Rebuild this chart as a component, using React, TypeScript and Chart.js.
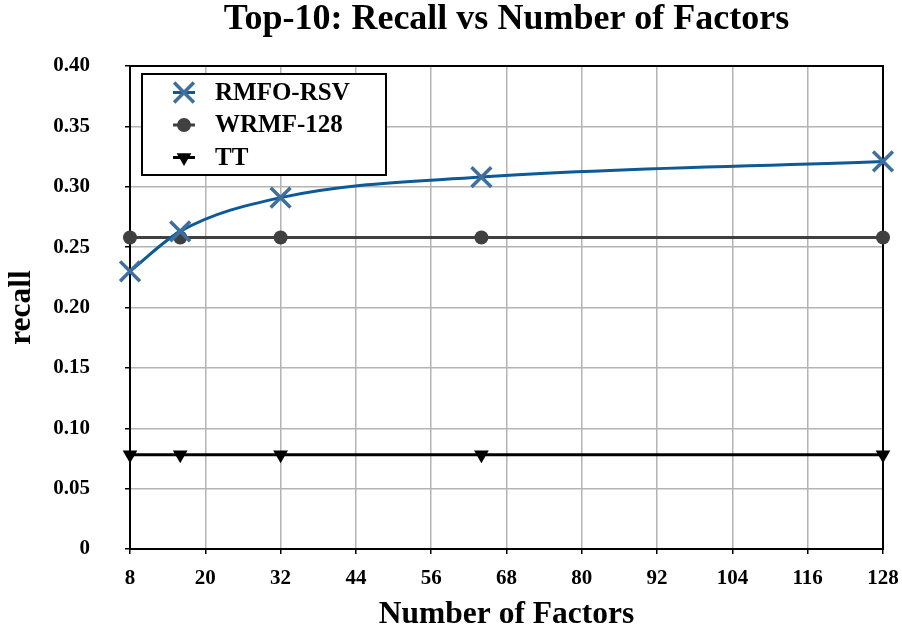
import React, { useEffect, useRef } from 'react';
import { Chart, registerables } from 'chart.js';

Chart.register(...registerables);

// ---- data ----
const factors = [8, 16, 32, 64, 128];
const rmfoRsv = [0.23, 0.263, 0.291, 0.308, 0.321];
const wrmf128 = [0.258, 0.258, 0.258, 0.258, 0.258];
const tt = [0.078, 0.078, 0.078, 0.078, 0.078];
const seriesNames = ['RMFO-RSV', 'WRMF-128', 'TT'];
const xRange = [8, 128];
const xStep = 12;
const yRange = [0, 0.4];
const yStep = 0.05;
const chartTitle = 'Top-10: Recall vs Number of Factors';
const xTitle = 'Number of Factors';
const yTitle = 'recall';

const FONT = "'Liberation Serif', 'Times New Roman', Times, serif";

function drawMarker(ctx: CanvasRenderingContext2D, ds: any, x: number, y: number) {
  const r = ds.pointRadius;
  ctx.save();
  ctx.beginPath();
  if (ds.pointStyle === 'crossRot') {
    const d = r * Math.SQRT1_2;
    ctx.moveTo(x - d, y - d);
    ctx.lineTo(x + d, y + d);
    ctx.moveTo(x + d, y - d);
    ctx.lineTo(x - d, y + d);
    ctx.strokeStyle = ds.pointBorderColor;
    ctx.lineWidth = ds.pointBorderWidth;
    ctx.stroke();
  } else if (ds.pointStyle === 'circle') {
    ctx.arc(x, y, r, 0, Math.PI * 2);
    ctx.fillStyle = ds.pointBackgroundColor;
    ctx.fill();
  } else if (ds.pointStyle === 'triangle') {
    let rad = ((ds.pointRotation || 0) * Math.PI) / 180;
    ctx.moveTo(x + Math.sin(rad) * r, y - Math.cos(rad) * r);
    rad += (2 * Math.PI) / 3;
    ctx.lineTo(x + Math.sin(rad) * r, y - Math.cos(rad) * r);
    rad += (2 * Math.PI) / 3;
    ctx.lineTo(x + Math.sin(rad) * r, y - Math.cos(rad) * r);
    ctx.closePath();
    ctx.fillStyle = ds.pointBackgroundColor;
    ctx.fill();
  }
  ctx.restore();
}

const frameAndLegend = {
  id: 'frameAndLegend',
  beforeDatasetsDraw(chart: any) {
    const { ctx, chartArea } = chart;
    ctx.save();
    ctx.strokeStyle = '#000';
    ctx.lineWidth = 2;
    ctx.strokeRect(chartArea.left, chartArea.top, chartArea.right - chartArea.left, chartArea.bottom - chartArea.top);
    ctx.restore();
  },
  afterDatasetsDraw(chart: any) {
    const { ctx, chartArea } = chart;
    const x0 = chartArea.left + 12;
    const y0 = chartArea.top + 8;
    const w = 244;
    const h = 101;
    ctx.save();
    ctx.fillStyle = '#fff';
    ctx.fillRect(x0, y0, w, h);
    ctx.strokeStyle = '#000';
    ctx.lineWidth = 2;
    ctx.strokeRect(x0, y0, w, h);
    chart.data.datasets.forEach((ds: any, i: number) => {
      const cy = y0 + 18.5 + i * 32.5;
      ctx.beginPath();
      ctx.strokeStyle = ds.borderColor;
      ctx.lineWidth = ds.borderWidth;
      ctx.moveTo(x0 + 31, cy);
      ctx.lineTo(x0 + 53, cy);
      ctx.stroke();
      drawMarker(ctx, ds, x0 + 42, cy);
      ctx.fillStyle = '#000';
      ctx.font = `bold 25px ${FONT}`;
      ctx.textBaseline = 'middle';
      ctx.textAlign = 'left';
      ctx.fillText(ds.label, x0 + 73, cy + 1);
    });
    ctx.restore();
  },
};

function App() {
  const ref = useRef<HTMLCanvasElement | null>(null);

  useEffect(() => {
    document.body.style.margin = '0';
    const canvas = ref.current;
    if (!canvas) return;
    const toPts = (ys: number[]) => factors.map((x, i) => ({ x, y: ys[i] }));
    const chart = new Chart(canvas, {
      type: 'line',
      data: {
        datasets: [
          {
            label: seriesNames[0],
            data: toPts(rmfoRsv),
            borderColor: '#0d5a97',
            borderWidth: 3,
            cubicInterpolationMode: 'monotone',
            pointStyle: 'crossRot',
            pointRadius: 14,
            pointBorderColor: '#3f6f9f',
            pointBorderWidth: 3.5,
            pointBackgroundColor: '#3f6f9f',
            clip: false,
          } as any,
          {
            label: seriesNames[1],
            data: toPts(wrmf128),
            borderColor: '#404040',
            borderWidth: 3,
            tension: 0,
            pointStyle: 'circle',
            pointRadius: 7,
            pointBorderWidth: 0,
            pointBorderColor: '#404040',
            pointBackgroundColor: '#404040',
            clip: false,
          } as any,
          {
            label: seriesNames[2],
            data: toPts(tt),
            borderColor: '#000000',
            borderWidth: 3,
            tension: 0,
            pointStyle: 'triangle',
            pointRotation: 180,
            pointRadius: 8.5,
            pointBorderWidth: 0,
            pointBorderColor: '#000000',
            pointBackgroundColor: '#000000',
            clip: false,
          } as any,
        ],
      },
      options: {
        responsive: false,
        animation: false,
        events: [],
        layout: { padding: { left: 0, right: 19, top: 0, bottom: 0 } },
        plugins: {
          legend: { display: false },
          tooltip: { enabled: false },
          title: {
            display: true,
            text: chartTitle,
            fullSize: false,
            color: '#000',
            font: { family: FONT, size: 36, weight: 'bold' },
            padding: { top: -2, bottom: 24.8 },
          },
        },
        scales: {
          x: {
            type: 'linear',
            min: xRange[0],
            max: xRange[1],
            afterFit: (s: any) => {
              s.height = 83;
              s.paddingLeft = 0;
              s.paddingRight = 0;
            },
            ticks: {
              stepSize: xStep,
              color: '#000',
              padding: 12,
              font: { family: FONT, size: 21, weight: 'bold' },
            },
            grid: {
              color: '#b4b4b4',
              lineWidth: 1.5,
              tickColor: '#000',
              tickLength: 5,
              tickWidth: 1.5,
            },
            border: { display: true, color: '#000', width: 2 },
            title: {
              display: true,
              text: xTitle,
              color: '#000',
              font: { family: FONT, size: 31.5, weight: 'bold' },
              padding: { top: 0, bottom: -2 },
            },
          },
          y: {
            type: 'linear',
            min: yRange[0],
            max: yRange[1],
            afterFit: (s: any) => {
              s.width = 130;
            },
            ticks: {
              stepSize: yStep,
              color: '#000',
              padding: 35,
              font: { family: FONT, size: 21, weight: 'bold' },
              callback: (v: any) => (Number(v) === 0 ? '0' : Number(v).toFixed(2)),
            },
            grid: {
              color: '#b4b4b4',
              lineWidth: 1.5,
              tickColor: '#000',
              tickLength: 5,
              tickWidth: 1.5,
            },
            border: { display: true, color: '#000', width: 2 },
            title: {
              display: true,
              text: yTitle,
              color: '#000',
              font: { family: FONT, size: 31.5, weight: 'bold' },
              padding: { top: 3, bottom: 0 },
            },
          },
        },
      },
      plugins: [frameAndLegend],
    });
    return () => chart.destroy();
  }, []);

  return (
    <div style={{ width: 902, height: 632, background: '#fff' }}>
      <canvas ref={ref} width={902} height={632} style={{ display: 'block' }} />
    </div>
  );
}

export default App;
